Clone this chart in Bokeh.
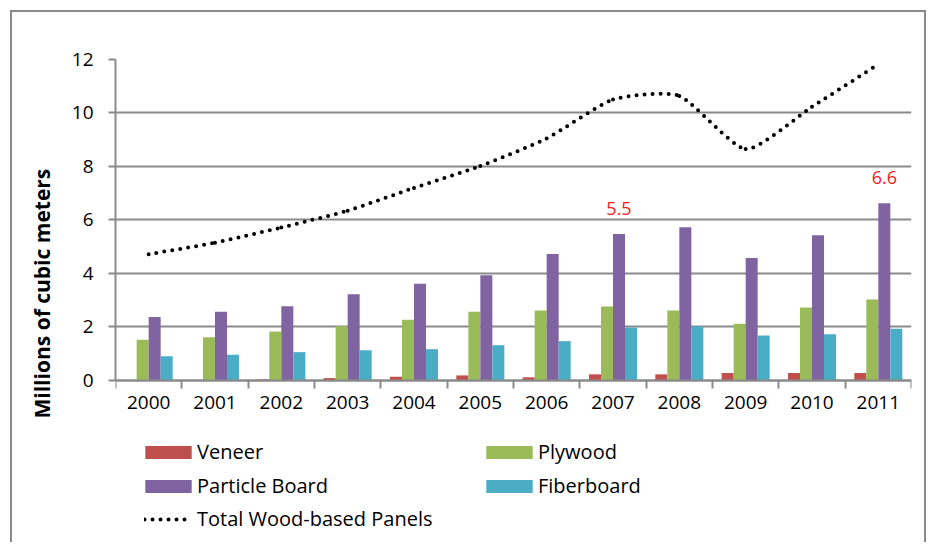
import math
from bokeh.plotting import figure
from bokeh.models import (ColumnDataSource, Range1d, FixedTicker, Legend, LegendItem, Title)
from bokeh.core.properties import value
from bokeh.embed import file_html
from bokeh.resources import INLINE

years = ["2000", "2001", "2002", "2003", "2004", "2005",
         "2006", "2007", "2008", "2009", "2010", "2011"]
veneer = [0.0, 0.0, 0.04, 0.09, 0.14, 0.19, 0.12, 0.23, 0.23, 0.28, 0.28, 0.28]
plywood = [1.52, 1.62, 1.83, 2.03, 2.27, 2.57, 2.62, 2.77, 2.62, 2.12, 2.73, 3.03]
particle = [2.37, 2.57, 2.78, 3.22, 3.62, 3.93, 4.73, 5.48, 5.73, 4.58, 5.43, 6.63]
fiber = [0.91, 0.96, 1.06, 1.13, 1.17, 1.32, 1.47, 1.98, 2.02, 1.68, 1.73, 1.93]
total = [4.72, 5.15, 5.72, 6.35, 7.20, 8.02, 9.05, 10.50, 10.64, 8.65, 10.23, 11.82]
y_ticks = [0, 2, 4, 6, 8, 10, 12]
label_years = ["2007", "2011"]
label_texts = ["5.5", "6.6"]

FONT = "Open Sans"
GRAY = "#8a8a8a"
colors = {"Veneer": "#C0504D", "Plywood": "#9BBB59",
          "Particle Board": "#8064A2", "Fiberboard": "#4BACC6"}

# frame: x 115..911, y 59 (=12) .. 544 (page bottom); zero at y=380
p = figure(width=916, height=532, output_backend="svg", toolbar_location=None,
           x_range=Range1d(-0.5, 11.5), y_range=Range1d(-6.131, 12),
           min_border_left=103, min_border_right=17, min_border_top=47,
           min_border_bottom=0)
p.margin = (10, 0, 0, 10)
p.styles = {"border-top": "2px solid #8a8a8a", "border-left": "2px solid #8a8a8a",
            "border-right": "2px solid #8a8a8a"}
p.outline_line_color = None
p.background_fill_color = "white"
p.border_fill_color = "white"

idx = list(range(len(years)))
w = 0.181
series = [("Veneer", veneer), ("Plywood", plywood),
          ("Particle Board", particle), ("Fiberboard", fiber)]
bar_r = {}
for k, (name, vals) in enumerate(series):
    off = (k - 1.5) * w
    src = ColumnDataSource(dict(x=[i + off for i in idx], top=vals))
    bar_r[name] = p.vbar(x="x", top="top", width=w, bottom=0, source=src,
                         fill_color=colors[name], line_color=None)

# smoothed total line through the data points
K = 0.1
n = len(total)
x0s, y0s, x1s, y1s, cx0, cy0, cx1, cy1 = [], [], [], [], [], [], [], []
for i in range(n - 1):
    pm = max(i - 1, 0)
    pp = min(i + 2, n - 1)
    x0s.append(idx[i]); y0s.append(total[i])
    x1s.append(idx[i + 1]); y1s.append(total[i + 1])
    cx0.append(idx[i] + (idx[i + 1] - idx[pm]) * K)
    cy0.append(total[i] + (total[i + 1] - total[pm]) * K)
    cx1.append(idx[i + 1] - (idx[pp] - idx[i]) * K)
    cy1.append(total[i + 1] - (total[pp] - total[i]) * K)
tsrc = ColumnDataSource(dict(x0=x0s, y0=y0s, x1=x1s, y1=y1s,
                             cx0=cx0, cy0=cy0, cx1=cx1, cy1=cy1))
tot_r = p.bezier(x0="x0", y0="y0", x1="x1", y1="y1", cx0="cx0", cy0="cy0",
                 cx1="cx1", cy1="cy1", source=tsrc, line_color="black",
                 line_width=4, line_dash="0 8", line_cap="round")

# data labels
lx = [years.index(yv) + 0.5 * w for yv in label_years]
ly = [particle[years.index(yv)] for yv in label_years]
lsrc = ColumnDataSource(dict(x=lx, y=ly, t=label_texts))
p.text(x="x", y="y", text="t", source=lsrc, text_color="#EE1C25",
       text_font=value(FONT), text_font_size="18px", text_align="center",
       text_baseline="bottom", y_offset=-19)

# axes
p.xgrid.visible = False
p.ygrid.ticker = FixedTicker(ticks=y_ticks)
p.ygrid.grid_line_color = GRAY
p.ygrid.grid_line_width = 2

xa = p.xaxis[0]
xa.fixed_location = 0
xa.ticker = FixedTicker(ticks=idx, minor_ticks=[i - 0.5 for i in range(len(years) + 1)])
xa.major_label_overrides = {i: years[i] for i in idx}
xa.major_tick_line_color = None
xa.minor_tick_in = 0
xa.minor_tick_out = 8
xa.minor_tick_line_color = GRAY
xa.minor_tick_line_width = 2
xa.axis_line_color = GRAY
xa.axis_line_width = 2
xa.major_label_text_font = FONT
xa.major_label_text_font_size = "19px"
xa.major_label_text_color = "black"
xa.major_label_standoff = 8

ya = p.yaxis[0]
ya.ticker = FixedTicker(ticks=y_ticks)
ya.bounds = (0, 12)
ya.minor_tick_line_color = None
ya.major_tick_in = 0
ya.major_tick_out = 7
ya.major_tick_line_color = GRAY
ya.major_tick_line_width = 2
ya.axis_line_color = GRAY
ya.axis_line_width = 2
ya.major_label_text_font = FONT
ya.major_label_text_font_size = "19px"
ya.major_label_text_color = "black"
ya.major_label_standoff = 15

# y title
p.add_layout(Title(text="Millions of cubic meters", align="left", offset=126,
                   vertical_align="middle", standoff=24, text_font=FONT,
                   text_font_size="21px", text_font_style="bold",
                   text_color="black"), "left")

def mk_legend(items, loc, gw, gh, standoff):
    return Legend(items=items, location=loc, orientation="vertical",
                  glyph_width=gw, glyph_height=gh, label_standoff=standoff,
                  spacing=7, padding=0, margin=0, border_line_color=None,
                  background_fill_alpha=0, label_text_font=FONT,
                  label_text_font_size="20px", label_text_color="black",
                  label_height=20)

leg1 = mk_legend([LegendItem(label="Veneer", renderers=[bar_r["Veneer"]]),
                  LegendItem(label="Particle Board", renderers=[bar_r["Particle Board"]])],
                 (24, 45), 58, 16, 0)
leg2 = mk_legend([LegendItem(label="Plywood", renderers=[bar_r["Plywood"]]),
                  LegendItem(label="Fiberboard", renderers=[bar_r["Fiberboard"]])],
                 (365, 45), 58, 16, 0)
leg3 = mk_legend([LegendItem(label="Total Wood-based Panels", renderers=[tot_r])],
                 (29, 12), 44, 16, 9)
p.add_layout(leg1)
p.add_layout(leg2)
p.add_layout(leg3)

open("out.html", "w").write(file_html(p, INLINE))
